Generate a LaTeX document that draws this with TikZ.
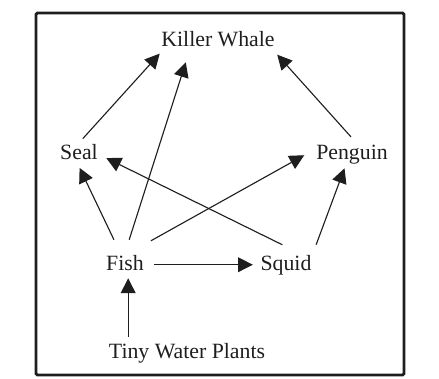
\documentclass[tikz,border=0pt]{standalone}
\usepackage{fontspec}
\setmainfont{Liberation Serif}
\usepackage{xcolor}
\usepackage{tikz}
\usetikzlibrary{arrows.meta}
\definecolor{inkcolor}{RGB}{30, 30, 30}

\begin{document}
\begin{tikzpicture}[
			x=0.025cm, y=-0.025cm,
			animal/.style={
				inner sep=1pt,
				text height=11pt,
				text depth=3.5pt,
				anchor=base,
				font=\fontsize{15.5}{18}\selectfont,
				text=inkcolor
			},
			eats/.style={
				-{Triangle[length=10.5pt, width=10.5pt]},
				line width=0.8pt,
				inkcolor
			}
			]
			
			\useasboundingbox (0,0) rectangle (439,379);
			\draw[line width=2pt, inkcolor, rounded corners=1pt] (36,13) rectangle (404,375);
			
			\node[animal] (whale) at (218,47) {Killer Whale};
			\node[animal] (seal) at (79,160) {Seal};
			\node[animal] (penguin) at (352,160) {Penguin};
			\node[animal] (fish) at (125,270) {Fish};
			\node[animal] (squid) at (286,270) {Squid};
			\node[animal] (plants) at (187,358) {Tiny Water Plants};
			
			\draw[eats, shorten <=4pt] (seal.north) -- (whale.south west);
			\draw[eats, shorten <=9.8pt, shorten >=6.5pt] (fish.north) -- (whale.202);
			\draw[eats, shorten <=5.7pt, shorten >=1pt] (penguin.70) -- (whale.south east);
			
			\draw[eats, shorten <=10.3pt, shorten >=1pt] (fish.112) -- (seal.south);
			\draw[eats, shorten <=13pt, shorten >=5.4pt] (squid.43) -- (seal.east);
			\draw[eats, shorten <=17.6pt, shorten >=8.4pt] (fish.70) -- (penguin.172);
			\draw[eats, shorten <=6.2pt, shorten >=1.3pt] (squid.north east) -- (penguin.240);
			
			\draw[eats, shorten <=6.3pt, shorten >=4.3pt] (fish.east) -- (squid.west);
			\draw[eats, shorten <=2.9pt, shorten >=1.2pt] (plants.north -| fish.285) -- (fish.285);
			
		\end{tikzpicture}
\end{document}
